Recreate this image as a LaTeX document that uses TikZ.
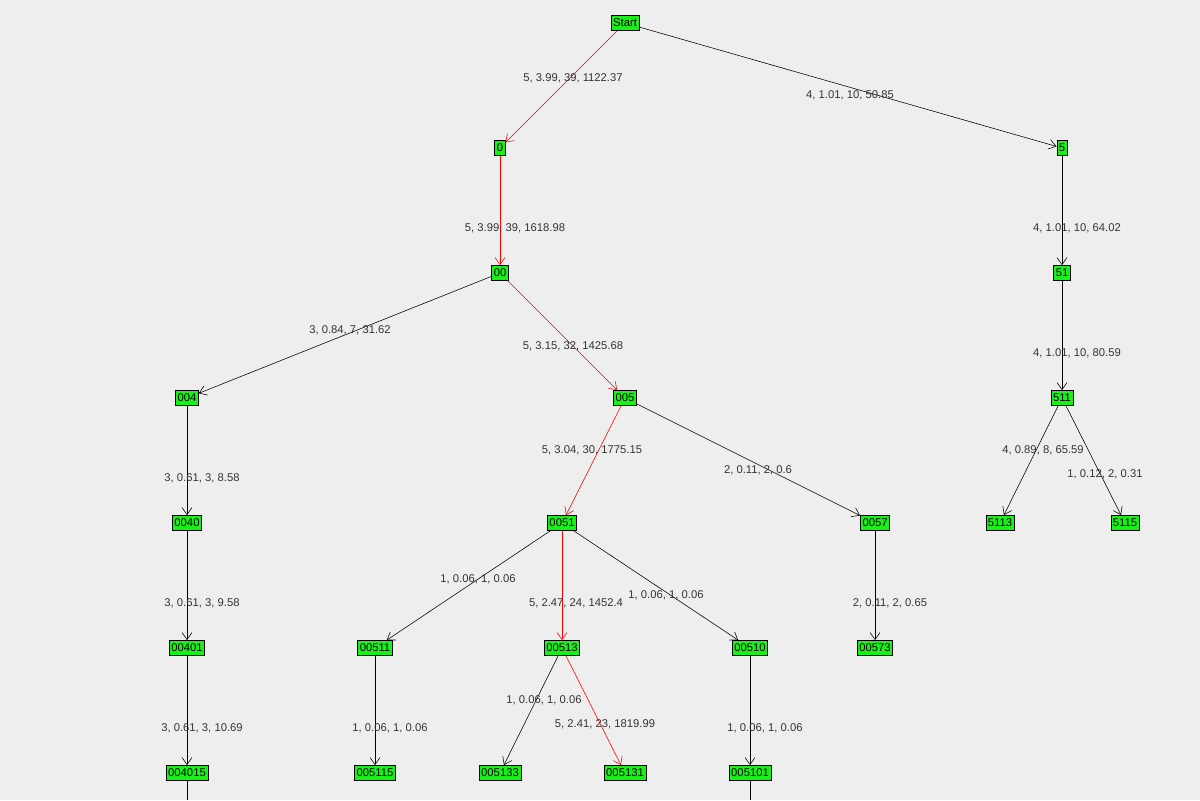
\documentclass[tikz,border=0pt]{standalone}
\usepackage{fontspec}
\setmainfont{Liberation Sans}
\usetikzlibrary{arrows.meta}
\definecolor{bgcol}{HTML}{EEEEEE}
\definecolor{boxcol}{HTML}{19F019}
\definecolor{labcol}{HTML}{333333}
\tikzstyle{state} = [rectangle, draw, fill=boxcol, inner xsep=1.5pt, inner ysep=0pt, minimum height=0.38cm, font=\fontsize{8}{9}\selectfont]
\tikzstyle{weight} = [text=labcol, font=\fontsize{8}{9}\selectfont]
\tikzstyle{link} = [-{Straight Barb[length=5pt,width=7pt]}, thin]
\tikzstyle{best} = [link, red]
\newcommand{\branch}[5]{\draw[#1] (#2) -- (#3); \node[weight] at (#4) {#5};}
\begin{document}
\begin{tikzpicture}[x=0.025cm,y=-0.025cm]
\fill[bgcol] (0,0) rectangle (1200,800);
\useasboundingbox (0,0) rectangle (1200,800);
% tree nodes
\node[state] (start) at (625,23) {Start};
\node[state] (n0) at (500,148) {0};
\node[state] (n5) at (1062,148) {5};
\node[state] (n00) at (500,273) {00};
\node[state] (n51) at (1062,273) {51};
\node[state] (n004) at (187,398) {004};
\node[state] (n005) at (625,398) {005};
\node[state] (n511) at (1062,398) {511};
\node[state] (n0040) at (187,523) {0040};
\node[state] (n0051) at (562,523) {0051};
\node[state] (n0057) at (875,523) {0057};
\node[state] (n5113) at (1000,523) {5113};
\node[state] (n5115) at (1125,523) {5115};
\node[state] (n00401) at (187,648) {00401};
\node[state] (n00511) at (375,648) {00511};
\node[state] (n00513) at (562,648) {00513};
\node[state] (n00510) at (750,648) {00510};
\node[state] (n00573) at (875,648) {00573};
\node[state] (n004015) at (187,773) {004015};
\node[state] (n005115) at (375,773) {005115};
\node[state] (n005133) at (500,773) {005133};
\node[state] (n005131) at (625,773) {005131};
\node[state] (n005101) at (750,773) {005101};
\coordinate (c1) at (187,800);
\coordinate (c2) at (750,800);
% edges
\branch{best}{start}{n0}{573,78}{5, 3.99, 39, 1122.37}
\branch{link}{start}{n5}{850,95}{4, 1.01, 10, 50.85}
\branch{best}{n0}{n00}{515,228}{5, 3.99, 39, 1618.98}
\branch{link}{n5}{n51}{1077,228}{4, 1.01, 10, 64.02}
\branch{link}{n00}{n004}{350,330}{3, 0.84, 7, 31.62}
\branch{best}{n00}{n005}{573,346}{5, 3.15, 32, 1425.68}
\branch{link}{n51}{n511}{1077,353}{4, 1.01, 10, 80.59}
\branch{link}{n004}{n0040}{202,478}{3, 0.61, 3, 8.58}
\branch{best}{n005}{n0051}{592,450}{5, 3.04, 30, 1775.15}
\branch{link}{n005}{n0057}{758,470}{2, 0.11, 2, 0.6}
\branch{link}{n511}{n5113}{1043,450}{4, 0.89, 8, 65.59}
\branch{link}{n511}{n5115}{1105,474}{1, 0.12, 2, 0.31}
\branch{link}{n0040}{n00401}{202,603}{3, 0.61, 3, 9.58}
\branch{link}{n0051}{n00511}{478,579}{1, 0.06, 1, 0.06}
\branch{best}{n0051}{n00513}{576,603}{5, 2.47, 24, 1452.4}
\branch{link}{n0051}{n00510}{666,595}{1, 0.06, 1, 0.06}
\branch{link}{n0057}{n00573}{890,603}{2, 0.11, 2, 0.65}
\branch{link}{n00401}{n004015}{202,728}{3, 0.61, 3, 10.69}
\branch{link}{n00511}{n005115}{390,728}{1, 0.06, 1, 0.06}
\branch{link}{n00513}{n005133}{544,700}{1, 0.06, 1, 0.06}
\branch{best}{n00513}{n005131}{605,724}{5, 2.41, 23, 1819.99}
\branch{link}{n00510}{n005101}{765,728}{1, 0.06, 1, 0.06}
\draw[thin] (n004015) -- (c1);
\draw[thin] (n005101) -- (c2);
\end{tikzpicture}
\end{document}
